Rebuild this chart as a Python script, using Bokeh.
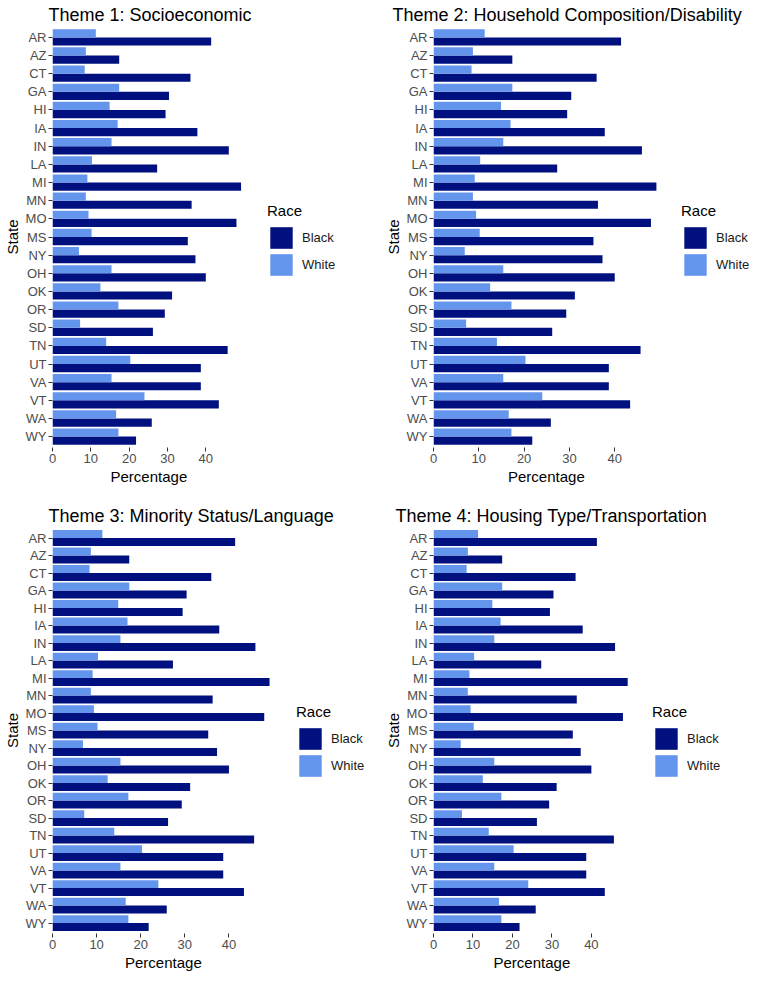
from bokeh.plotting import figure
from bokeh.models import (Range1d, FactorRange, Legend, LegendItem, ColumnDataSource,
                          FixedTicker, Title)
from bokeh.transform import dodge
from bokeh.layouts import row, column
from bokeh.embed import file_html
from bokeh.resources import INLINE
from bokeh.core.properties import value

# ---------------- data ----------------
states = ["AR", "AZ", "CT", "GA", "HI", "IA", "IN", "LA", "MI", "MN", "MO", "MS",
          "NY", "OH", "OK", "OR", "SD", "TN", "UT", "VA", "VT", "WA", "WY"]
black_pct = [41.4, 17.4, 36.0, 30.4, 29.5, 37.8, 46.0, 27.3, 49.2, 36.3, 48.0, 35.3,
             37.3, 40.0, 31.2, 29.3, 26.2, 45.7, 38.7, 38.7, 43.4, 25.9, 21.8]
white_pct = [11.3, 8.7, 8.4, 17.4, 14.9, 17.0, 15.4, 10.3, 9.1, 8.7, 9.4, 10.2,
             6.9, 15.4, 12.5, 17.2, 7.2, 14.0, 20.3, 15.4, 24.0, 16.6, 17.2]
titles = ["Theme 1: Socioeconomic",
          "Theme 2: Household Composition/Disability",
          "Theme 3: Minority Status/Language",
          "Theme 4: Housing Type/Transportation"]
race_labels = ["Black", "White"]
x_ticks = [0, 10, 20, 30, 40]

# ---------------- style ----------------
FONT = "Liberation Sans"
NAVY = "#00107F"
CORNFLOWER = "#6495ED"
XLABEL_W = 76  # approx. pixel width of the x-axis label text
TOP, BOTTOM = 25, 46


def make_panel(title, width, height, left, data_w, title_offset):
    frame_w = width - left
    frame_h = height - TOP - BOTTOM
    xmax = max(black_pct)
    y_range = FactorRange(factors=states[::-1], range_padding=0.1,
                          range_padding_units="absolute")
    p = figure(width=width, height=height, y_range=y_range,
               x_range=Range1d(0, xmax * frame_w / data_w),
               output_backend="svg", toolbar_location=None,
               min_border_left=left, min_border_right=0,
               min_border_top=TOP, min_border_bottom=BOTTOM - 4)
    p.title.text = title
    p.title.text_font = FONT
    p.title.text_font_size = "18px"
    p.title.text_font_style = "normal"
    p.title.text_color = "#000000"
    p.title.align = "left"
    p.title.offset = title_offset
    p.title.standoff = 4

    src = ColumnDataSource(dict(state=states, black=black_pct, white=white_pct))
    rb = p.hbar(y=dodge("state", -0.225, range=y_range), left=0, right="black",
                height=0.45, source=src, fill_color=NAVY, line_color=None)
    rw = p.hbar(y=dodge("state", 0.225, range=y_range), left=0, right="white",
                height=0.45, source=src, fill_color=CORNFLOWER, line_color=None)

    legend = Legend(items=[LegendItem(label=value(race_labels[0]), renderers=[rb]),
                           LegendItem(label=value(race_labels[1]), renderers=[rw])],
                    title="Race", location=(data_w + 23, frame_h - 249),
                    margin=0, padding=0, spacing=0,
                    glyph_width=28, glyph_height=27, label_standoff=7,
                    border_line_color=None, background_fill_alpha=0)
    legend.title_text_font = FONT
    legend.title_text_font_size = "15px"
    legend.title_text_font_style = "normal"
    legend.title_text_color = "#000000"
    legend.title_standoff = 5
    legend.label_text_font = FONT
    legend.label_text_font_size = "13px"
    legend.label_text_color = "#1A1A1A"
    p.add_layout(legend, "center")

    p.xgrid.visible = False
    p.ygrid.visible = False
    p.outline_line_color = None
    p.xaxis.ticker = FixedTicker(ticks=x_ticks)
    p.yaxis.axis_label = "State"
    for ax in (p.xaxis[0], p.yaxis[0]):
        ax.axis_line_color = None
        ax.major_tick_line_color = "#333333"
        ax.major_tick_out = 4
        ax.major_tick_in = 0
        ax.minor_tick_line_color = None
        ax.major_label_text_font = FONT
        ax.major_label_text_font_size = "13px"
        ax.major_label_text_color = "#4D4D4D"
        ax.major_label_standoff = 2
        ax.axis_label_text_font = FONT
        ax.axis_label_text_font_size = "15px"
        ax.axis_label_text_font_style = "normal"
        ax.axis_label_text_color = "#000000"
        ax.axis_label_standoff = 2
    p.xaxis[0].major_label_standoff = 2

    xlab = Title(text="Percentage", align="left", offset=data_w / 2 - XLABEL_W / 2,
                 text_font=FONT, text_font_size="15px", text_font_style="normal",
                 text_color="#000000", standoff=0)
    p.add_layout(xlab, "below")
    return p


p1 = make_panel(titles[0], 381, 489, 46, 192, -4)
p2 = make_panel(titles[1], 373, 489, 49, 225, -41)
p3 = make_panel(titles[2], 381, 474, 46, 221, -4)
p4 = make_panel(titles[3], 373, 474, 49, 196, -38)

layout = column(row(p1, p2), row(p3, p4), spacing=12)
open("out.html", "w").write(file_html(layout, INLINE))
